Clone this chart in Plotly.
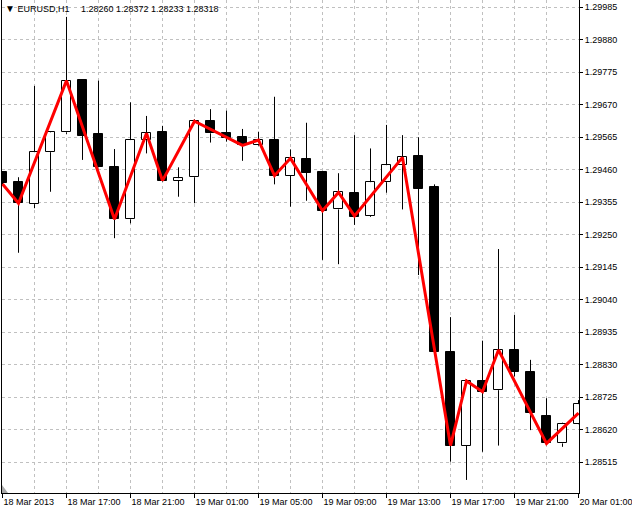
import pandas as pd
import plotly.graph_objects as go

# ---- data (EURUSD H1) ----
times = pd.date_range("2013-03-18 13:00", periods=37, freq="h")

opens = [1.29452, 1.29420, 1.29349, 1.29517, 1.29581, 1.29750, 1.29575, 1.29468, 1.29300, 1.29556,
         1.29581, 1.29424, 1.29436, 1.29618, 1.29580, 1.29566, 1.29539, 1.29556, 1.29441, 1.29495,
         1.29453, 1.29332, 1.29385, 1.29311, 1.29420, 1.29475, 1.29505, 1.29403, 1.28870, 1.28569,
         1.28778, 1.28748, 1.28878, 1.28807, 1.28665, 1.28576, 1.28639]
highs = [1.29456, 1.29436, 1.29731, 1.29583, 1.29954, 1.29753, 1.29748, 1.29527, 1.29678, 1.29634,
         1.29602, 1.29468, 1.29623, 1.29656, 1.29651, 1.29592, 1.29583, 1.29696, 1.29526, 1.29612,
         1.29454, 1.29449, 1.29572, 1.29529, 1.29605, 1.29572, 1.29565, 1.29413, 1.28984, 1.28783,
         1.28908, 1.29204, 1.28991, 1.28846, 1.28722, 1.28643, 1.28716]
lows = [1.29412, 1.29192, 1.29336, 1.29389, 1.29576, 1.29492, 1.29468, 1.29239, 1.29287, 1.29513,
        1.29422, 1.29373, 1.29352, 1.29548, 1.29551, 1.29489, 1.29537, 1.29413, 1.29341, 1.29360,
        1.29169, 1.29155, 1.29282, 1.29308, 1.29386, 1.29332, 1.29120, 1.28870, 1.28517, 1.28458,
        1.28549, 1.28569, 1.28792, 1.28619, 1.28575, 1.28565, 1.28638]
closes = [1.29418, 1.29352, 1.29517, 1.29581, 1.29748, 1.29570, 1.29470, 1.29300, 1.29556, 1.29578,
          1.29425, 1.29433, 1.29617, 1.29578, 1.29564, 1.29539, 1.29556, 1.29441, 1.29497, 1.29451,
          1.29328, 1.29387, 1.29309, 1.29420, 1.29475, 1.29500, 1.29399, 1.28872, 1.28569, 1.28778,
          1.28743, 1.28878, 1.28808, 1.28673, 1.28576, 1.28639, 1.28703]

zz_idx = [0, 1, 4, 7, 9, 10, 12, 15, 16, 17, 18, 20, 21, 22, 25, 28, 29, 30, 31, 34, 36]
zz_val = [1.29414, 1.29352, 1.29748, 1.29300, 1.29578, 1.29425, 1.29617, 1.29539, 1.29556, 1.29441,
          1.29497, 1.29328, 1.29387, 1.29311, 1.29500, 1.28569, 1.28778, 1.28743, 1.28878, 1.28576,
          1.28674]

y_ticks = [1.28515, 1.28620, 1.28725, 1.28830, 1.28935, 1.29040, 1.29145, 1.29250,
           1.29355, 1.29460, 1.29565, 1.29670, 1.29775, 1.29880, 1.29985]
x_tick_idx = [0, 4, 8, 12, 16, 20, 24, 28, 32, 36]
x_tick_labels = ["18 Mar 2013", "18 Mar 17:00", "18 Mar 21:00", "19 Mar 01:00", "19 Mar 05:00",
                 "19 Mar 09:00", "19 Mar 13:00", "19 Mar 17:00", "19 Mar 21:00", "20 Mar 01:00"]
header_symbol = "EURUSD,H1"
header_ohlc = ["1.28260", "1.28372", "1.28233", "1.28318"]

# ---- derived ----
body_base = [min(o, c) for o, c in zip(opens, closes)]
body_size = [abs(c - o) for o, c in zip(opens, closes)]
body_color = ["white" if c >= o else "black" for o, c in zip(opens, closes)]

wx, wy = [], []
for t, o, h, l, c in zip(times, opens, highs, lows, closes):
    top, bot = max(o, c), min(o, c)
    wx += [t, t, None, t, t, None]
    wy += [h, top, None, bot, l, None]

hour_ms = 3600000
FONT = "Liberation Sans"
GRID = "#c0c0c0"

fig = go.Figure()
fig.add_trace(go.Bar(
    x=times, y=body_size, base=body_base, width=0.5625 * hour_ms,
    marker=dict(color=body_color, line=dict(color="black", width=1)),
    hoverinfo="skip", showlegend=False))
fig.add_trace(go.Scatter(
    x=wx, y=wy, mode="lines", line=dict(color="black", width=1),
    hoverinfo="skip", showlegend=False, connectgaps=False))
fig.add_trace(go.Scatter(
    x=[times[i] for i in zz_idx], y=zz_val, mode="lines",
    line=dict(color="#ff0000", width=3), hoverinfo="skip", showlegend=False))

header = ("<span style='font-size:10px'>\u25BC</span> " + header_symbol
          + "\u2002\u2002 " + " ".join(header_ohlc))

half_px = pd.Timedelta(seconds=112.5)
fig.update_layout(
    width=632, height=515,
    margin=dict(l=2, r=53, t=0, b=22),
    paper_bgcolor="white", plot_bgcolor="white",
    font=dict(family=FONT, size=9, color="black"),
    bargap=0, showlegend=False, hovermode=False,
    xaxis=dict(
        type="date",
        range=[times[0] - half_px, times[36] + half_px],
        tickmode="array",
        tickvals=[times[i] for i in x_tick_idx],
        ticktext=x_tick_labels,
        ticks="outside", ticklen=4, tickcolor="black", tickwidth=1,
        ticklabelposition="outside right",
        ticklabeloverflow="allow",
        showline=True, linecolor="black", linewidth=1, mirror=False,
        showgrid=True, gridcolor=GRID, griddash="3px,3px", gridwidth=1,
        minor=dict(dtick=2 * hour_ms, tick0=times[0], showgrid=True, gridcolor=GRID,
                   griddash="3px,3px", ticklen=0),
        zeroline=False, fixedrange=True,
        tickfont=dict(family=FONT, size=9, color="black"),
    ),
    yaxis=dict(
        side="right",
        range=[1.284158, 1.300086],
        tickmode="array", tickvals=y_ticks, tickformat=".5f",
        ticks="outside", ticklen=3, tickcolor="black", tickwidth=1,
        showline=True, linecolor="black", linewidth=1, mirror=True,
        showgrid=True, gridcolor=GRID, griddash="3px,3px", gridwidth=1,
        zeroline=False, fixedrange=True,
        tickfont=dict(family=FONT, size=9, color="black"),
    ),
    annotations=[dict(
        text=header, xref="paper", yref="paper", x=0, y=1,
        xanchor="left", yanchor="top", xshift=1, yshift=-1, showarrow=False,
        font=dict(family=FONT, size=9, color="black"))],
    shapes=[dict(
        type="path", xref="paper", yref="paper",
        path="M 0 0 L 0 0.0162 L 0.0104 0 Z",
        fillcolor="#a8a8a8", line=dict(width=0))],
)

fig.write_html(
    "out.html",
    config={"displayModeBar": False},
    post_script="document.body.style.margin='0';document.body.style.overflow='hidden';",
)
